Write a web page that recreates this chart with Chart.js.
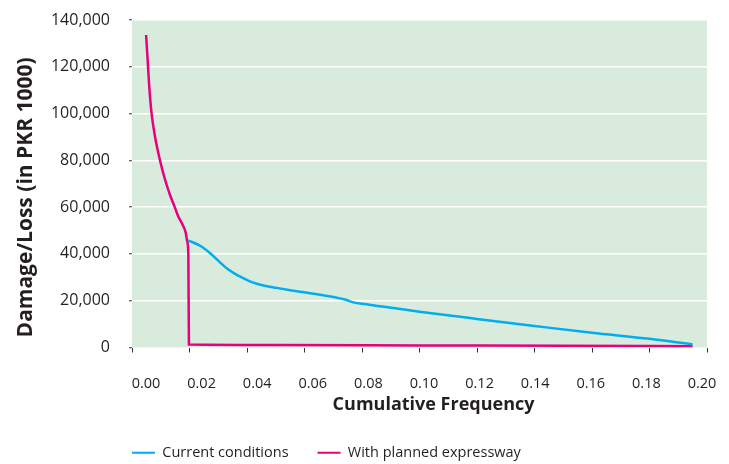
<!DOCTYPE html>
<html>
<head>
<meta charset="utf-8">
<script src="https://cdn.jsdelivr.net/npm/chart.js@4.4.1/dist/chart.umd.min.js"></script>
<style>
  body { margin: 0; background: #fff; }
  #wrap { width: 729px; height: 464px; }
</style>
</head>
<body>
<div id="wrap"><canvas id="chart"></canvas></div>
<script>
// values
const xTicks = [0, 0.02, 0.04, 0.06, 0.08, 0.10, 0.12, 0.14, 0.16, 0.18, 0.20]
const yTicks = [0, 20000, 40000, 60000, 80000, 100000, 120000, 140000]

const currentX = [0.0195, 0.0237, 0.0271, 0.0306, 0.0335, 0.0370, 0.0410, 0.0457, 0.0503, 0.0561, 0.0631, 0.0701, 0.0741, 0.0770, 0.0816, 0.0863, 0.100, 0.120, 0.140, 0.160, 0.180, 0.195]
const currentY = [45800, 43500, 40400, 36400, 33300, 30700, 28300, 26500, 25500, 24300, 23000, 21600, 20500, 19300, 18500, 17600, 15300, 12200, 9200, 6300, 3700, 1300]

const expresswayX = [0.0049, 0.0053, 0.0060, 0.0068, 0.0080, 0.0097, 0.0115, 0.0132, 0.0150, 0.0161, 0.0176, 0.0187, 0.0192, 0.0196, 0.0198, 0.05, 0.10, 0.15, 0.195]
const expresswayY = [133600, 125800, 111500, 100200, 90200, 80200, 71700, 65300, 59600, 56000, 52500, 49000, 45400, 40000, 1300, 1100, 900, 700, 550]

const BLUE = '#00aeef'
const MAGENTA = '#e6007e'
const TEXT = '#231f20'

Chart.defaults.font.family = "'Open Sans', sans-serif"
Chart.defaults.color = TEXT

const plotBackground = {
    id: 'plotBackground',
    beforeDraw(chart) {
        const {ctx, chartArea: a} = chart
        ctx.save()
        ctx.fillStyle = '#d8ebdc'
        ctx.fillRect(a.left, a.top, a.right - a.left, a.bottom - a.top)
        ctx.restore()
    }
}

// start the legend row under the left edge of the plot
const legendUnderPlot = {
    id: 'legendUnderPlot',
    beforeDraw(chart) {
        const lg = chart.legend
        const shift = chart.chartArea.left - lg.options.labels.padding - lg.left
        lg.left += shift
        lg.right += shift
    }
}

// fixed box sizes so the plot sits where the original has it
const fixSize = (w, h) => axis => {
    if (w) axis.width = w
    if (h) axis.height = h
    axis.paddingTop = axis.paddingBottom = axis.paddingLeft = axis.paddingRight = 0
}

new Chart(document.getElementById('chart'), {
    type: 'line',
    data: {
        datasets: [
            {
                label: 'Current conditions',
                data: currentX.map((x, i) => ({x, y: currentY[i]})),
                borderColor: BLUE,
                backgroundColor: BLUE,
                borderWidth: 2.5,
                pointRadius: 0,
                pointHoverRadius: 0,
                cubicInterpolationMode: 'monotone'
            },
            {
                label: 'With planned expressway',
                data: expresswayX.map((x, i) => ({x, y: expresswayY[i]})),
                borderColor: MAGENTA,
                backgroundColor: MAGENTA,
                borderWidth: 2.5,
                pointRadius: 0,
                pointHoverRadius: 0,
                cubicInterpolationMode: 'monotone'
            }
        ]
    },
    options: {
        responsive: true,
        maintainAspectRatio: false,
        animation: false,
        layout: { autoPadding: false, padding: { left: 0, top: 20, right: 22, bottom: -6 } },
        plugins: {
            tooltip: { enabled: false },
            legend: {
                position: 'bottom',
                align: 'start',
                labels: {
                    boxWidth: 23,
                    boxHeight: 2,
                    padding: 29,
                    font: { size: 14.5 },
                    color: TEXT,
                    generateLabels(chart) {
                        const items = Chart.defaults.plugins.legend.labels.generateLabels(chart)
                        items.forEach(it => { it.lineWidth = 0 })
                        return items
                    }
                }
            }
        },
        scales: {
            x: {
                type: 'linear',
                position: 'bottom',
                min: 0,
                max: 0.2,
                ticks: { display: false },
                afterBuildTicks: axis => { axis.ticks = xTicks.map(v => ({value: v})) },
                afterFit: fixSize(0, 5),
                grid: { drawOnChartArea: false, tickLength: 5, tickColor: '#333', tickWidth: 1 },
                border: { display: false }
            },
            x2: {
                type: 'linear',
                position: 'bottom',
                min: -0.005036,
                max: 0.2018,
                afterBuildTicks: axis => { axis.ticks = xTicks.map(v => ({value: v})) },
                afterFit: fixSize(0, 64),
                ticks: {
                    autoSkip: false,
                    maxRotation: 0,
                    padding: 15,
                    font: { size: 14.5 },
                    callback: v => v.toFixed(2)
                },
                grid: { display: false },
                border: { display: false },
                title: {
                    display: true,
                    text: '      Cumulative Frequency',
                    font: { size: 18, weight: 'bold' },
                    padding: { top: 0, bottom: 1.2 }
                }
            },
            y: {
                min: 0,
                max: 140000,
                afterBuildTicks: axis => { axis.ticks = yTicks.map(v => ({value: v})) },
                afterFit: fixSize(132, 0),
                ticks: {
                    padding: 19,
                    font: { size: 16 },
                    callback: v => v.toLocaleString('en-US')
                },
                grid: {
                    color: ctx => ctx.tick && ctx.tick.value === 0 ? 'rgba(0,0,0,0)' : '#ffffff',
                    lineWidth: 1.5,
                    tickLength: 3,
                    tickColor: '#333',
                    tickWidth: 1
                },
                border: { display: false },
                title: {
                    display: true,
                    text: 'Damage/Loss (in PKR 1000)     ',
                    font: { size: 21, weight: 'bold' },
                    padding: { top: 13.4, bottom: 0 }
                }
            }
        }
    },
    plugins: [plotBackground, legendUnderPlot]
})
</script>
</body>
</html>
